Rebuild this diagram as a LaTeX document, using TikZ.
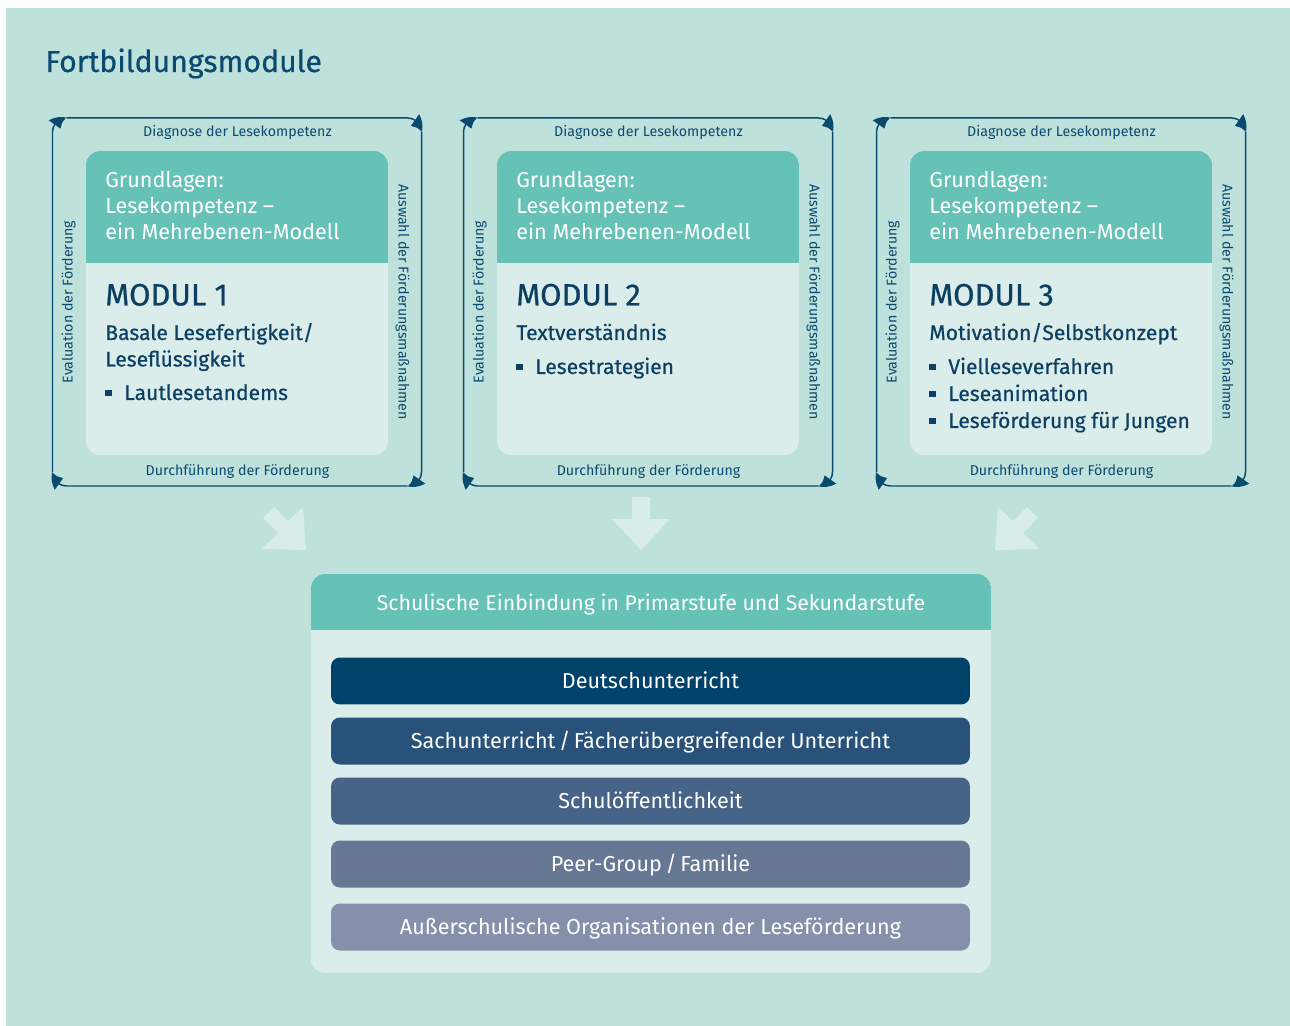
\documentclass[tikz,border=0pt]{standalone}
\usepackage{fontspec}
\setmainfont{Fira Sans}
\newfontfamily\semifont{Fira Sans}[FakeBold=0.6]
\usetikzlibrary{arrows.meta,bending}
\definecolor{bgc}{HTML}{BFE1DC}
\definecolor{tealc}{HTML}{66C2B6}
\definecolor{lightc}{HTML}{DAEDEA}
\definecolor{arrowc}{HTML}{D8ECE9}
\definecolor{navyc}{HTML}{0B4A6F}
\definecolor{textc}{HTML}{0D3F62}
\definecolor{barA}{HTML}{00426A}
\definecolor{barB}{HTML}{29527A}
\definecolor{barC}{HTML}{466388}
\definecolor{barD}{HTML}{677895}
\definecolor{barE}{HTML}{8690AB}
\tikzset{
 cyc/.style={draw=navyc, line width=0.85pt, -{Triangle[length=8pt,width=8pt,bend]}},
 flabel/.style={font=\fontsize{8.1}{9}\selectfont, text=navyc, inner sep=0pt},
 hline/.style={anchor=base west, font=\fontsize{12.3}{14}\selectfont, text=white, inner sep=0pt},
 modtitle/.style={anchor=base west, font=\semifont\fontsize{17.6}{20}\selectfont, text=textc, inner sep=0pt},
 subline/.style={anchor=base west, font=\semifont\fontsize{12}{15}\selectfont, text=textc, inner sep=0pt},
 barbox/.style={rounded corners=5pt, minimum width=12.78cm, minimum height=0.94cm, inner sep=0pt,
   text=white, font=\fontsize{12.3}{15}\selectfont, text height=8.5pt, text depth=0pt},
 bullet/.style={fill=textc},
}
\newcommand\modframe[3]{%
\begin{scope}[shift={(#1,0)}]
 \begin{scope}
  \clip[rounded corners=8pt] (86,151) rectangle (388,455);
  \fill[lightc] (86,151) rectangle (388,455);
  \fill[tealc] (86,151) rectangle (388,263);
 \end{scope}
 \coordinate (#2t0) at (66.5,118);
 \coordinate (#2r0) at (421.5,132);
 \coordinate (#2b0) at (407.5,486);
 \coordinate (#2l0) at (52.5,472);
 \draw[cyc] (#2t0) -- (407.5,118) .. controls (415.2,118) and (421.5,124.3) .. (#2r0);
 \draw[cyc] (#2r0) -- (421.5,472) .. controls (421.5,479.7) and (415.2,486) .. (#2b0);
 \draw[cyc] (#2b0) -- (66.5,486) .. controls (58.8,486) and (52.5,479.7) .. (#2l0);
 \draw[cyc] (#2l0) -- (52.5,132) .. controls (52.5,124.3) and (58.8,118) .. (#2t0);
 \node[flabel, anchor=base] (#2top) at (237.5,136.5) {Diagnose der Lesekompetenz};
 \node[flabel, anchor=base] (#2bot) at (237.5,476) {Durchführung der Förderung};
 \node[flabel, anchor=base, rotate=90] (#2lft) at (72.7,302) {Evaluation der Förderung};
 \node[flabel, anchor=base, rotate=-90] (#2rgt) at (398.5,302) {Auswahl der Förderungsmaßnahmen};
 \node[hline] (#2h1) at (105,188) {Grundlagen:};
 \node[hline] (#2h2) at (105,214) {Lesekompetenz –};
 \node[hline] (#2h3) at (105,240) {ein Mehrebenen-Modell};
 \node[modtitle] (#2t) at (105,305.5) {MODUL #3};
\end{scope}}
\begin{document}
\begin{tikzpicture}[x=0.02cm,y=-0.02cm]
\useasboundingbox (0,0) rectangle (1290,1026);
\fill[bgc] (6,8) rectangle (1290,1026);
\node[anchor=base west, font=\semifont\fontsize{17.2}{20}\selectfont, text=navyc, inner sep=0pt] (title) at (45,72) {Fortbildungsmodule};

\modframe{0}{ma}{1}
\modframe{411}{mb}{2}
\modframe{824}{mc}{3}

% module 1
\node[subline] (ma1) at (105,340) {Basale Lesefertigkeit/};
\node[subline] (ma2) at (105,366.5) {Leseflüssigkeit};
\fill[bullet] (105,390) rectangle (111.5,396.5);
\node[subline] (ma3) at (124,400) {Lautlesetandems};
% module 2
\node[subline] (mb1) at (516,340) {Textverständnis};
\fill[bullet] (516,364) rectangle (522.5,370.5);
\node[subline] (mb2) at (535,374) {Lesestrategien};
% module 3
\node[subline] (mc1) at (929,340) {Motivation/Selbstkonzept};
\fill[bullet] (929,364) rectangle (935.5,370.5);
\node[subline] (mc2) at (948,374) {Vielleseverfahren};
\fill[bullet] (929,391) rectangle (935.5,397.5);
\node[subline] (mc3) at (948,401) {Leseanimation};
\fill[bullet] (929,418) rectangle (935.5,424.5);
\node[subline] (mc4) at (948,428) {Leseförderung für Jungen};

% block arrows
\fill[arrowc] (306,550) -- (262,549) -- (278,533) -- (263,518) -- (274,507) -- (288,521) -- (303,507) -- cycle;
\fill[arrowc] (641,550) -- (612,519) -- (632,519) -- (632,497) -- (650,497) -- (650,519) -- (670,519) -- cycle;
\fill[arrowc] (995,550) -- (1039,549) -- (1023,533) -- (1038,518) -- (1027,507) -- (1013,521) -- (998,507) -- cycle;

% bottom box
\begin{scope}
 \clip[rounded corners=8pt] (311,574) rectangle (991,973);
 \fill[lightc] (311,574) rectangle (991,973);
 \fill[tealc] (311,574) rectangle (991,630);
\end{scope}
\node[font=\fontsize{12.1}{15}\selectfont, text=white, inner sep=0pt, text height=8.5pt, text depth=0pt] (hdr) at (651,603) {Schulische Einbindung in Primarstufe und Sekundarstufe};
\node[barbox, fill=barA] (b1) at (650.5,681) {Deutschunterricht};
\node[barbox, fill=barB] (b2) at (650.5,741) {Sachunterricht\,/\,Fächerübergreifender Unterricht};
\node[barbox, fill=barC] (b3) at (650.5,801) {Schulöffentlichkeit};
\node[barbox, fill=barD] (b4) at (650.5,864) {Peer-Group\,/\,Familie};
\node[barbox, fill=barE] (b5) at (650.5,927) {Außerschulische Organisationen der Leseförderung};
\end{tikzpicture}
\end{document}
